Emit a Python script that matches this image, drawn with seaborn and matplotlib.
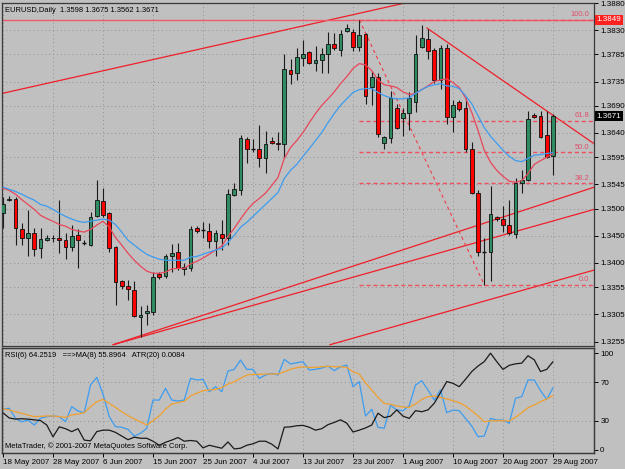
import numpy as np
import pandas as pd
import seaborn as sns
import matplotlib.pyplot as plt
import matplotlib.transforms as mtransforms
from matplotlib import font_manager

# ---------------------------------------------------------------------------
# EURUSD daily data
# ---------------------------------------------------------------------------
opens = [1.3492, 1.3517, 1.3519, 1.3462, 1.3447, 1.3455, 1.3427, 1.3442, 1.3446, 1.3447,
         1.3442, 1.3429, 1.3451, 1.3437, 1.3433, 1.3486, 1.3514, 1.3492, 1.3429, 1.3366,
         1.3357, 1.3350, 1.3300, 1.3307, 1.3309, 1.3379, 1.3376, 1.3412, 1.3420, 1.3389,
         1.3390, 1.3464, 1.3460, 1.3459, 1.3440, 1.3453, 1.3447, 1.3525, 1.3534, 1.3628,
         1.3611, 1.3611, 1.3593, 1.3626, 1.3622, 1.3619, 1.3757, 1.3750, 1.3779, 1.3790,
         1.3770, 1.3774, 1.3786, 1.3805, 1.3794, 1.3829, 1.3827, 1.3799, 1.3823, 1.3724,
         1.3744, 1.3621, 1.3630, 1.3687, 1.3667, 1.3676, 1.3698, 1.3799, 1.3814, 1.3794,
         1.3737, 1.3796, 1.3669, 1.3698, 1.3687, 1.3610, 1.3530, 1.3421, 1.3420, 1.3484,
         1.3482, 1.3470, 1.3453, 1.3547, 1.3554, 1.3674, 1.3672, 1.3637, 1.3598]
highs = [1.3521, 1.3523, 1.3521, 1.3473, 1.3497, 1.3464, 1.3464, 1.3451, 1.3451, 1.3517,
         1.3455, 1.3470, 1.3462, 1.3442, 1.3494, 1.3554, 1.3538, 1.3495, 1.3431, 1.3368,
         1.3368, 1.3366, 1.3320, 1.3322, 1.3383, 1.3383, 1.3416, 1.3435, 1.3436, 1.3400,
         1.3468, 1.3468, 1.3475, 1.3473, 1.3460, 1.3479, 1.3536, 1.3547, 1.3637, 1.3632,
         1.3628, 1.3654, 1.3643, 1.3632, 1.3641, 1.3785, 1.3777, 1.3797, 1.3812, 1.3792,
         1.3801, 1.3797, 1.3827, 1.3825, 1.3831, 1.3842, 1.3832, 1.3849, 1.3825, 1.3755,
         1.3751, 1.3634, 1.3718, 1.3694, 1.3687, 1.3715, 1.3820, 1.3840, 1.3832, 1.3796,
         1.3803, 1.3805, 1.3700, 1.3700, 1.3705, 1.3624, 1.3534, 1.3447, 1.3543, 1.3486,
         1.3505, 1.3516, 1.3556, 1.3571, 1.3681, 1.3676, 1.3681, 1.3681, 1.3675]
lows = [1.3464, 1.3514, 1.3433, 1.3433, 1.3412, 1.3412, 1.3409, 1.3440, 1.3438, 1.3418,
        1.3407, 1.3422, 1.3390, 1.3434, 1.3431, 1.3484, 1.3484, 1.3420, 1.3322, 1.3352,
        1.3331, 1.3300, 1.3263, 1.3285, 1.3304, 1.3370, 1.3372, 1.3383, 1.3387, 1.3377,
        1.3385, 1.3455, 1.3446, 1.3427, 1.3412, 1.3424, 1.3433, 1.3523, 1.3525, 1.3584,
        1.3604, 1.3578, 1.3567, 1.3619, 1.3608, 1.3593, 1.3731, 1.3737, 1.3764, 1.3768,
        1.3755, 1.3750, 1.3751, 1.3794, 1.3783, 1.3827, 1.3792, 1.3792, 1.3694, 1.3691,
        1.3632, 1.3611, 1.3622, 1.3648, 1.3635, 1.3645, 1.3678, 1.3796, 1.3777, 1.3733,
        1.3722, 1.3657, 1.3641, 1.3681, 1.3604, 1.3527, 1.3412, 1.3360, 1.3366, 1.3477,
        1.3457, 1.3451, 1.3447, 1.3530, 1.3551, 1.3667, 1.3630, 1.3593, 1.3562]
closes = [1.3508, 1.3519, 1.3464, 1.3447, 1.3455, 1.3425, 1.3444, 1.3447, 1.3447, 1.3442,
          1.3429, 1.3449, 1.3442, 1.3437, 1.3484, 1.3516, 1.3488, 1.3427, 1.3365, 1.3357,
          1.3352, 1.3302, 1.3304, 1.3311, 1.3374, 1.3374, 1.3412, 1.3418, 1.3390, 1.3392,
          1.3462, 1.3459, 1.3460, 1.3440, 1.3455, 1.3446, 1.3527, 1.3536, 1.3630, 1.3610,
          1.3611, 1.3593, 1.3619, 1.3622, 1.3619, 1.3759, 1.3748, 1.3781, 1.3786, 1.3770,
          1.3775, 1.3785, 1.3805, 1.3796, 1.3823, 1.3834, 1.3799, 1.3820, 1.3709, 1.3744,
          1.3639, 1.3632, 1.3705, 1.3650, 1.3676, 1.3704, 1.3786, 1.3816, 1.3792, 1.3737,
          1.3797, 1.3670, 1.3691, 1.3685, 1.3611, 1.3530, 1.3420, 1.3421, 1.3490, 1.3481,
          1.3470, 1.3455, 1.3547, 1.3554, 1.3665, 1.3669, 1.3632, 1.3595, 1.3671]

# moving averages drawn on the price chart
ma_fast = [1.3538, 1.3534, 1.3527, 1.3517, 1.3508, 1.3499, 1.3488, 1.3482, 1.3477, 1.3471,
           1.3468, 1.3462, 1.3459, 1.3457, 1.3462, 1.3470, 1.3477, 1.3466, 1.3447, 1.3433,
           1.3418, 1.3405, 1.3394, 1.3385, 1.3381, 1.3381, 1.3383, 1.3389, 1.3390, 1.3390,
           1.3398, 1.3403, 1.3409, 1.3416, 1.3424, 1.3431, 1.3449, 1.3464, 1.3481, 1.3497,
           1.3510, 1.3519, 1.3529, 1.3543, 1.3558, 1.3593, 1.3613, 1.3626, 1.3641, 1.3659,
           1.3676, 1.3691, 1.3703, 1.3716, 1.3731, 1.3744, 1.3759, 1.3768, 1.3766, 1.3755,
           1.3738, 1.3729, 1.3727, 1.3724, 1.3716, 1.3711, 1.3713, 1.3720, 1.3727, 1.3735,
           1.3738, 1.3740, 1.3733, 1.3724, 1.3705, 1.3678, 1.3645, 1.3608, 1.3586, 1.3571,
           1.3560, 1.3551, 1.3549, 1.3552, 1.3565, 1.3582, 1.3589, 1.3595, 1.3602]
ma_slow = [1.3540, 1.3536, 1.3532, 1.3527, 1.3521, 1.3516, 1.3508, 1.3505, 1.3499, 1.3492,
           1.3486, 1.3481, 1.3477, 1.3475, 1.3477, 1.3479, 1.3481, 1.3479, 1.3471, 1.3457,
           1.3442, 1.3433, 1.3424, 1.3416, 1.3411, 1.3407, 1.3405, 1.3405, 1.3405, 1.3405,
           1.3411, 1.3412, 1.3416, 1.3420, 1.3424, 1.3427, 1.3438, 1.3451, 1.3466, 1.3475,
           1.3486, 1.3497, 1.3508, 1.3519, 1.3530, 1.3556, 1.3571, 1.3582, 1.3597, 1.3611,
           1.3626, 1.3641, 1.3659, 1.3676, 1.3691, 1.3703, 1.3715, 1.3720, 1.3722, 1.3722,
           1.3715, 1.3709, 1.3705, 1.3703, 1.3703, 1.3705, 1.3713, 1.3720, 1.3726, 1.3729,
           1.3731, 1.3727, 1.3726, 1.3722, 1.3709, 1.3694, 1.3672, 1.3650, 1.3634, 1.3621,
           1.3608, 1.3597, 1.3589, 1.3587, 1.3593, 1.3599, 1.3600, 1.3602, 1.3604]

# indicator window: RSI(6), its MA(8) and ATR(20)
rsi = [42.3, 43.0, 32.7, 29.2, 30.9, 25.8, 32.7, 34.4, 35.1, 34.4,
       29.2, 44.7, 40.2, 38.5, 67.0, 74.9, 57.7, 34.4, 24.1, 23.4,
       21.3, 14.4, 17.2, 22.4, 51.5, 51.5, 63.6, 51.5, 50.5, 51.5,
       73.9, 72.2, 72.9, 60.1, 65.3, 60.1, 81.4, 83.2, 92.8, 83.2,
       83.2, 73.9, 77.3, 79.0, 77.3, 93.5, 88.7, 90.0, 91.1, 82.5,
       83.2, 84.5, 86.6, 81.8, 85.9, 87.6, 65.3, 70.4, 35.1, 42.0,
       23.4, 22.4, 46.4, 41.2, 40.5, 45.7, 67.0, 71.4, 61.9, 51.5,
       61.9, 38.5, 41.2, 40.5, 32.6, 24.7, 13.7, 14.4, 32.6, 30.9,
       30.9, 27.5, 53.3, 55.0, 72.2, 72.2, 61.2, 52.2, 64.2519]
rsi_ma = [42.6, 41.2, 39.5, 37.8, 36.1, 34.4, 34.7, 35.1, 35.1, 34.4,
          33.7, 36.1, 37.1, 38.5, 44.7, 49.8, 52.2, 48.1, 44.0, 39.5,
          35.4, 32.0, 28.9, 25.8, 30.2, 35.1, 42.0, 47.4, 48.8, 50.2,
          55.7, 58.5, 61.2, 61.9, 62.5, 64.3, 68.0, 70.4, 73.9, 77.3,
          78.0, 78.0, 78.4, 78.4, 78.4, 80.7, 83.2, 84.9, 85.9, 85.2,
          85.2, 85.9, 86.3, 85.9, 85.9, 85.2, 80.7, 78.4, 69.4, 61.9,
          54.3, 48.1, 47.1, 45.4, 44.3, 44.0, 47.4, 52.2, 55.0, 55.7,
          54.3, 52.6, 50.9, 48.8, 45.4, 40.5, 35.1, 29.2, 29.9, 30.2,
          30.2, 29.9, 33.7, 38.5, 43.6, 46.4, 49.8, 52.6, 55.8964]
atr = [0.00701, 0.00687, 0.00684, 0.00685, 0.00684, 0.00682, 0.00680, 0.00668, 0.00636, 0.00663,
       0.00658, 0.00650, 0.00658, 0.00627, 0.00625, 0.00650, 0.00654, 0.00654, 0.00648, 0.00638,
       0.00628, 0.00635, 0.00632, 0.00632, 0.00624, 0.00613, 0.00621, 0.00627, 0.00634, 0.00624,
       0.00626, 0.00624, 0.00606, 0.00613, 0.00609, 0.00605, 0.00622, 0.00603, 0.00605, 0.00613,
       0.00617, 0.00624, 0.00624, 0.00616, 0.00603, 0.00662, 0.00663, 0.00666, 0.00667, 0.00662,
       0.00654, 0.00658, 0.00669, 0.00675, 0.00682, 0.00673, 0.00649, 0.00654, 0.00660, 0.00668,
       0.00700, 0.00688, 0.00692, 0.00709, 0.00692, 0.00686, 0.00707, 0.00704, 0.00709, 0.00727,
       0.00756, 0.00786, 0.00781, 0.00772, 0.00792, 0.00813, 0.00828, 0.00840, 0.00863, 0.00840,
       0.00819, 0.00830, 0.00834, 0.00836, 0.00856, 0.00845, 0.00813, 0.00819, 0.00840]

date_bars = [0, 8, 16, 24, 32, 40, 48, 56, 64, 72, 80, 88]
date_labels = ["18 May 2007", "28 May 2007", "6 Jun 2007", "15 Jun 2007", "25 Jun 2007",
               "4 Jul 2007", "13 Jul 2007", "23 Jul 2007", "1 Aug 2007", "10 Aug 2007",
               "20 Aug 2007", "29 Aug 2007"]
price_ticks = [1.3880, 1.3830, 1.3785, 1.3735, 1.3690, 1.3640, 1.3595, 1.3545,
               1.3500, 1.3450, 1.3400, 1.3355, 1.3305, 1.3255]

# hand-drawn objects: (bar, price) end points
upper_line = ([-0.16, 65.1], [1.3713, 1.3882])
channel_a = ([17.6, 94.6], [1.3249, 1.3540])
channel_b = ([17.6, 94.6], [1.3249, 1.3499])
channel_c = ([52.3, 94.6], [1.3249, 1.3387])
down_line = ([67.8, 94.6], [1.3834, 1.3620])
fib_anchor = ([57, 77], [1.3849, 1.3360])
fib_levels = [100.0, 61.8, 50.0, 38.2, 0.0]

# ---------------------------------------------------------------------------
# style
# ---------------------------------------------------------------------------
BG = '#c0c0c0'
sns.set_theme(style="ticks", rc={'axes.facecolor': BG, 'figure.facecolor': BG})

# MetaTrader uses a narrow UI font; prefer a condensed face when available
installed = {f.name for f in font_manager.fontManager.ttflist}
if 'Liberation Sans Narrow' in installed:
    plt.rcParams['font.family'] = ['Liberation Sans Narrow', 'DejaVu Sans']
    FS, FS_AX = 6.5, 7.0
else:
    plt.rcParams['font.family'] = ['Liberation Sans', 'DejaVu Sans']
    FS, FS_AX = 5.4, 5.8

df = pd.DataFrame({'bar': np.arange(len(closes)), 'open': opens, 'high': highs,
                   'low': lows, 'close': closes, 'ma_fast': ma_fast, 'ma_slow': ma_slow,
                   'rsi': rsi, 'rsi_ma': rsi_ma, 'atr': atr})

fig = plt.figure(figsize=(6.25, 4.69), dpi=100)
ax = fig.add_axes([2 / 625, 1 - 346 / 469, 592 / 625, 343 / 469])
ax2 = fig.add_axes([2 / 625, 1 - 453 / 469, 592 / 625, 105 / 469])

xlim = (-0.16, 94.56)
grid_kw = dict(color='#8f8f8f', linestyle=(0, (1, 3)), linewidth=0.7)

# ---------------------------------------------------------------------------
# price window
# ---------------------------------------------------------------------------
for b in date_bars:
    ax.axvline(b, zorder=0, **grid_kw)
for p in price_ticks:
    ax.axhline(p, zorder=0, **grid_kw)

# trend lines
for xs, ys in [upper_line, channel_a, channel_b, channel_c, down_line]:
    ax.plot(xs, ys, color='#f01e28', lw=0.9, zorder=1)
ax.axhline(fib_anchor[1][0], color='#f05a6a', lw=1.0, zorder=1)
ax.plot(fib_anchor[0], fib_anchor[1], color='#f03c4a', lw=0.8,
        linestyle=(0, (3, 3)), zorder=1)
rng = fib_anchor[1][0] - fib_anchor[1][1]
for lev in fib_levels:
    price = fib_anchor[1][1] + rng * lev / 100
    ax.plot([fib_anchor[0][0], xlim[1]], [price, price], color='#f0505e', lw=1.0,
            linestyle=(0, (3, 2)), zorder=1)
    ax.text(93.8, price + 0.0003, f'{lev:.1f}', color='#e0506a', fontsize=FS,
            ha='right', va='bottom')

# candles
up = df['close'] > df['open']
down = df['close'] < df['open']
flat = df['close'] == df['open']
ax.vlines(df['bar'], df['low'], df['high'], color='#1a1a1a', lw=0.8, zorder=2)
body_low = np.minimum(df['open'], df['close'])
body_h = (df['close'] - df['open']).abs()
ax.bar(df['bar'][up], body_h[up], bottom=body_low[up], width=0.62,
       color='#2e8b62', edgecolor='#101010', linewidth=0.6, zorder=3)
ax.bar(df['bar'][down], body_h[down], bottom=body_low[down], width=0.62,
       color='#ff0000', edgecolor='#101010', linewidth=0.6, zorder=3)
ax.hlines(df['close'][flat], df['bar'][flat] - 0.31, df['bar'][flat] + 0.31,
          color='#101010', lw=1.0, zorder=3)

# moving averages
sns.lineplot(data=df, x='bar', y='ma_fast', ax=ax, color='#e8465a', lw=0.9,
             legend=False, zorder=4)
sns.lineplot(data=df, x='bar', y='ma_slow', ax=ax, color='#3c9cf0', lw=0.9,
             legend=False, zorder=4)

ax.set_xlim(*xlim)
ax.set_ylim(1.32467, 1.38785)
ax.set_xticks(date_bars)
ax.tick_params(axis='x', length=0, labelbottom=False)
ax.yaxis.tick_right()
ax.set_yticks(price_ticks)
ax.set_yticklabels([f'{p:.4f}' for p in price_ticks])
ax.tick_params(axis='y', length=3, width=0.7, pad=1.5, labelsize=FS_AX, colors='black')
ax.set_xlabel('')
ax.set_ylabel('')

trans = mtransforms.blended_transform_factory(ax.transAxes, ax.transData)
ax.text(1.004, fib_anchor[1][0], '1.3849', transform=trans, color='white', fontsize=FS_AX,
        va='center', ha='left',
        bbox=dict(boxstyle='square,pad=0.2', fc='#ff2020', ec='none'))
ax.text(1.004, closes[-1], f'{closes[-1]:.4f}', transform=trans, color='white',
        fontsize=FS_AX, va='center', ha='left',
        bbox=dict(boxstyle='square,pad=0.2', fc='black', ec='none'))
ax.text(0.005, 0.988, f'EURUSD,Daily  {opens[-1]:.4f} {highs[-1]:.4f} '
        f'{lows[-1]:.4f} {closes[-1]:.4f}', transform=ax.transAxes,
        fontsize=FS, va='top', ha='left', color='black')

# ---------------------------------------------------------------------------
# indicator window
# ---------------------------------------------------------------------------
for b in date_bars:
    ax2.axvline(b, zorder=0, **grid_kw)
for lvl in [70, 30]:
    ax2.axhline(lvl, zorder=0, **grid_kw)

sns.lineplot(data=df, x='bar', y='rsi', ax=ax2, color='#3c9cf0', lw=0.9, legend=False)
sns.lineplot(data=df, x='bar', y='rsi_ma', ax=ax2, color='#f0a030', lw=0.9, legend=False)
ax3 = ax2.twinx()
sns.lineplot(data=df, x='bar', y='atr', ax=ax3, color='#1a1a1a', lw=0.9, legend=False)
ax3.set_ylim(0.00592, 0.00877)
ax3.set_yticks([])
ax3.set_ylabel('')
ax3.grid(False)

ax2.set_xlim(*xlim)
ax2.set_ylim(-3.1, 105.2)
ax2.yaxis.tick_right()
ax2.set_yticks([100, 70, 30, 0])
ax2.tick_params(axis='y', length=3, width=0.7, pad=1.5, labelsize=FS_AX, colors='black')
ax2.set_xticks(date_bars)
ax2.set_xticklabels(date_labels, ha='left')
ax2.tick_params(axis='x', length=3, width=0.7, pad=1.5, labelsize=FS_AX, colors='black')
ax2.set_xlabel('')
ax2.set_ylabel('')

ax2.text(0.005, 0.965, f'RSI(6) {rsi[-1]:.4f}   ==>MA(8) {rsi_ma[-1]:.4f}   '
         f'ATR(20) {atr[-1]:.4f}', transform=ax2.transAxes, fontsize=FS,
         va='top', ha='left', color='black')
ax2.text(0.005, 0.03, 'MetaTrader, \u00a9 2001-2007 MetaQuotes Software Corp.',
         transform=ax2.transAxes, fontsize=FS, va='bottom', ha='left', color='black')

for a in (ax, ax2, ax3):
    for s in a.spines.values():
        s.set_color('#3a3a3a')
        s.set_linewidth(0.9)

fig.savefig('out.png', dpi=100, facecolor=BG)
